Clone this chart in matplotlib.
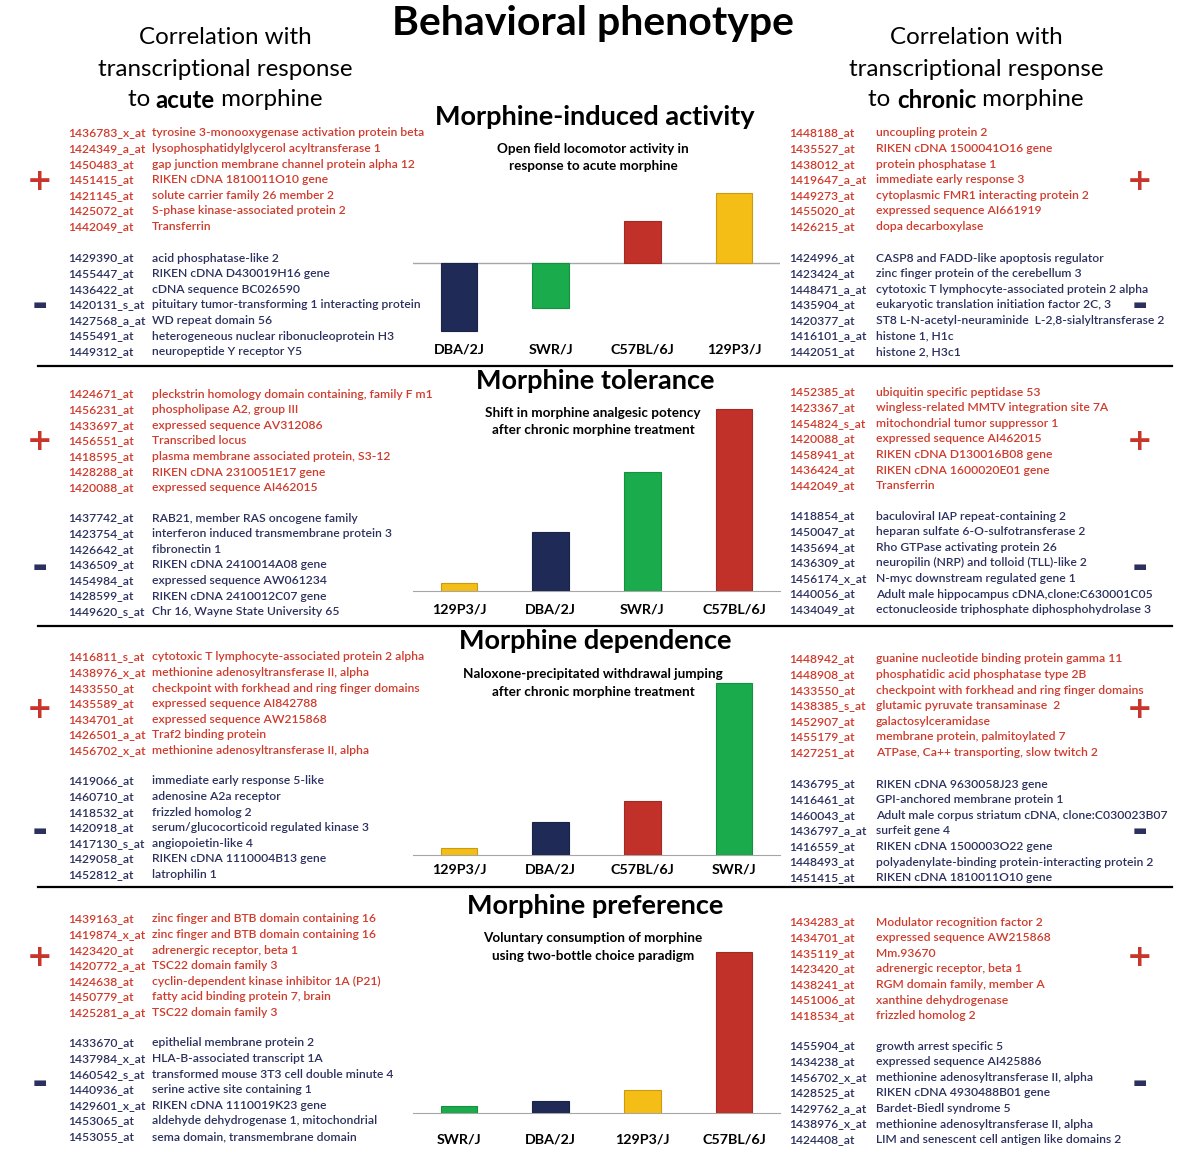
"""
Behavioral phenotype panel: four strain bar charts with correlated gene lists.
"""

import matplotlib
matplotlib.use("Agg")
import matplotlib.pyplot as plt
from matplotlib.transforms import blended_transform_factory

plt.rcParams["font.family"] = ["Lato", "DejaVu Sans"]

# ==================================================
# DATA
# ==================================================

ACTIVITY_STRAINS = ["DBA/2J", "SWR/J", "C57BL/6J", "129P3/J"]
ACTIVITY_VALUES = [-68, -45, 42, 70]

TOLERANCE_STRAINS = ["129P3/J", "DBA/2J", "SWR/J", "C57BL/6J"]
TOLERANCE_VALUES = [8, 59, 119, 182]

DEPENDENCE_STRAINS = ["129P3/J", "DBA/2J", "C57BL/6J", "SWR/J"]
DEPENDENCE_VALUES = [7, 33, 54, 172]

PREFERENCE_STRAINS = ["SWR/J", "DBA/2J", "129P3/J", "C57BL/6J"]
PREFERENCE_VALUES = [7, 12, 23, 161]

ACTIVITY_ACUTE_POS = [
    ("1436783_x_at", "tyrosine 3-monooxygenase activation protein beta"),
    ("1424349_a_at", "lysophosphatidylglycerol acyltransferase 1"),
    ("1450483_at", "gap junction membrane channel protein alpha 12"),
    ("1451415_at", "RIKEN cDNA 1810011O10 gene"),
    ("1421145_at", "solute carrier family 26 member 2"),
    ("1425072_at", "S-phase kinase-associated protein 2"),
    ("1442049_at", "Transferrin"),
]
ACTIVITY_ACUTE_NEG = [
    ("1429390_at", "acid phosphatase-like 2"),
    ("1455447_at", "RIKEN cDNA D430019H16 gene"),
    ("1436422_at", "cDNA sequence BC026590"),
    ("1420131_s_at", "pituitary tumor-transforming 1 interacting protein"),
    ("1427568_a_at", "WD repeat domain 56"),
    ("1455491_at", "heterogeneous nuclear ribonucleoprotein H3"),
    ("1449312_at", "neuropeptide Y receptor Y5"),
]
ACTIVITY_CHRONIC_POS = [
    ("1448188_at", "uncoupling protein 2"),
    ("1435527_at", "RIKEN cDNA 1500041O16 gene"),
    ("1438012_at", "protein phosphatase 1"),
    ("1419647_a_at", "immediate early response 3"),
    ("1449273_at", "cytoplasmic FMR1 interacting protein 2"),
    ("1455020_at", "expressed sequence AI661919"),
    ("1426215_at", "dopa decarboxylase"),
]
ACTIVITY_CHRONIC_NEG = [
    ("1424996_at", "CASP8 and FADD-like apoptosis regulator"),
    ("1423424_at", "zinc finger protein of the cerebellum 3"),
    ("1448471_a_at", "cytotoxic T lymphocyte-associated protein 2 alpha"),
    ("1435904_at", "eukaryotic translation initiation factor 2C, 3"),
    ("1420377_at", "ST8 L-N-acetyl-neuraminide  L-2,8-sialyltransferase 2"),
    ("1416101_a_at", "histone 1, H1c"),
    ("1442051_at", "histone 2, H3c1"),
]

TOLERANCE_ACUTE_POS = [
    ("1424671_at", "pleckstrin homology domain containing, family F m1"),
    ("1456231_at", "phospholipase A2, group III"),
    ("1433697_at", "expressed sequence AV312086"),
    ("1456551_at", "Transcribed locus"),
    ("1418595_at", "plasma membrane associated protein, S3-12"),
    ("1428288_at", "RIKEN cDNA 2310051E17 gene"),
    ("1420088_at", "expressed sequence AI462015"),
]
TOLERANCE_ACUTE_NEG = [
    ("1437742_at", "RAB21, member RAS oncogene family"),
    ("1423754_at", "interferon induced transmembrane protein 3"),
    ("1426642_at", "fibronectin 1"),
    ("1436509_at", "RIKEN cDNA 2410014A08 gene"),
    ("1454984_at", "expressed sequence AW061234"),
    ("1428599_at", "RIKEN cDNA 2410012C07 gene"),
    ("1449620_s_at", "Chr 16, Wayne State University 65"),
]
TOLERANCE_CHRONIC_POS = [
    ("1452385_at", "ubiquitin specific peptidase 53"),
    ("1423367_at", "wingless-related MMTV integration site 7A"),
    ("1454824_s_at", "mitochondrial tumor suppressor 1"),
    ("1420088_at", "expressed sequence AI462015"),
    ("1458941_at", "RIKEN cDNA D130016B08 gene"),
    ("1436424_at", "RIKEN cDNA 1600020E01 gene"),
    ("1442049_at", "Transferrin"),
]
TOLERANCE_CHRONIC_NEG = [
    ("1418854_at", "baculoviral IAP repeat-containing 2"),
    ("1450047_at", "heparan sulfate 6-O-sulfotransferase 2"),
    ("1435694_at", "Rho GTPase activating protein 26"),
    ("1436309_at", "neuropilin (NRP) and tolloid (TLL)-like 2"),
    ("1456174_x_at", "N-myc downstream regulated gene 1"),
    ("1440056_at", "Adult male hippocampus cDNA,clone:C630001C05"),
    ("1434049_at", "ectonucleoside triphosphate diphosphohydrolase 3"),
]

DEPENDENCE_ACUTE_POS = [
    ("1416811_s_at", "cytotoxic T lymphocyte-associated protein 2 alpha"),
    ("1438976_x_at", "methionine adenosyltransferase II, alpha"),
    ("1433550_at", "checkpoint with forkhead and ring finger domains"),
    ("1435589_at", "expressed sequence AI842788"),
    ("1434701_at", "expressed sequence AW215868"),
    ("1426501_a_at", "Traf2 binding protein"),
    ("1456702_x_at", "methionine adenosyltransferase II, alpha"),
]
DEPENDENCE_ACUTE_NEG = [
    ("1419066_at", "immediate early response 5-like"),
    ("1460710_at", "adenosine A2a receptor"),
    ("1418532_at", "frizzled homolog 2"),
    ("1420918_at", "serum/glucocorticoid regulated kinase 3"),
    ("1417130_s_at", "angiopoietin-like 4"),
    ("1429058_at", "RIKEN cDNA 1110004B13 gene"),
    ("1452812_at", "latrophilin 1"),
]
DEPENDENCE_CHRONIC_POS = [
    ("1448942_at", "guanine nucleotide binding protein gamma 11"),
    ("1448908_at", "phosphatidic acid phosphatase type 2B"),
    ("1433550_at", "checkpoint with forkhead and ring finger domains"),
    ("1438385_s_at", "glutamic pyruvate transaminase  2"),
    ("1452907_at", "galactosylceramidase"),
    ("1455179_at", "membrane protein, palmitoylated 7"),
    ("1427251_at", "ATPase, Ca++ transporting, slow twitch 2"),
]
DEPENDENCE_CHRONIC_NEG = [
    ("1436795_at", "RIKEN cDNA 9630058J23 gene"),
    ("1416461_at", "GPI-anchored membrane protein 1"),
    ("1460043_at", "Adult male corpus striatum cDNA, clone:C030023B07"),
    ("1436797_a_at", "surfeit gene 4"),
    ("1416559_at", "RIKEN cDNA 1500003O22 gene"),
    ("1448493_at", "polyadenylate-binding protein-interacting protein 2"),
    ("1451415_at", "RIKEN cDNA 1810011O10 gene"),
]

PREFERENCE_ACUTE_POS = [
    ("1439163_at", "zinc finger and BTB domain containing 16"),
    ("1419874_x_at", "zinc finger and BTB domain containing 16"),
    ("1423420_at", "adrenergic receptor, beta 1"),
    ("1420772_a_at", "TSC22 domain family 3"),
    ("1424638_at", "cyclin-dependent kinase inhibitor 1A (P21)"),
    ("1450779_at", "fatty acid binding protein 7, brain"),
    ("1425281_a_at", "TSC22 domain family 3"),
]
PREFERENCE_ACUTE_NEG = [
    ("1433670_at", "epithelial membrane protein 2"),
    ("1437984_x_at", "HLA-B-associated transcript 1A"),
    ("1460542_s_at", "transformed mouse 3T3 cell double minute 4"),
    ("1440936_at", "serine active site containing 1"),
    ("1429601_x_at", "RIKEN cDNA 1110019K23 gene"),
    ("1453065_at", "aldehyde dehydrogenase 1, mitochondrial"),
    ("1453055_at", "sema domain, transmembrane domain"),
]
PREFERENCE_CHRONIC_POS = [
    ("1434283_at", "Modulator recognition factor 2"),
    ("1434701_at", "expressed sequence AW215868"),
    ("1435119_at", "Mm.93670"),
    ("1423420_at", "adrenergic receptor, beta 1"),
    ("1438241_at", "RGM domain family, member A"),
    ("1451006_at", "xanthine dehydrogenase"),
    ("1418534_at", "frizzled homolog 2"),
]
PREFERENCE_CHRONIC_NEG = [
    ("1455904_at", "growth arrest specific 5"),
    ("1434238_at", "expressed sequence AI425886"),
    ("1456702_x_at", "methionine adenosyltransferase II, alpha"),
    ("1428525_at", "RIKEN cDNA 4930488B01 gene"),
    ("1429762_a_at", "Bardet-Biedl syndrome 5"),
    ("1438976_x_at", "methionine adenosyltransferase II, alpha"),
    ("1424408_at", "LIM and senescent cell antigen like domains 2"),
]

# ==================================================
# STYLE
# ==================================================

STRAIN_COLORS = {
    "DBA/2J": "#1f2a56",
    "SWR/J": "#1aab4c",
    "C57BL/6J": "#c1312a",
    "129P3/J": "#f5be16",
}
STRAIN_EDGES = {
    "DBA/2J": "#1a2348",
    "SWR/J": "#15903f",
    "C57BL/6J": "#a32a24",
    "129P3/J": "#c99a12",
}
RED = "#d03a2b"
NAVY = "#2b305e"
AXIS_GRAY = "#a6a6a6"
W, H = 1200, 1150
ROW = 15.6
GENE_SIZE = 8.75

SECTIONS = [
    dict(title="Morphine-induced activity",
         sub=["Open field locomotor activity in", "response to acute morphine"],
         strains=ACTIVITY_STRAINS, values=ACTIVITY_VALUES,
         lists=(ACTIVITY_ACUTE_POS, ACTIVITY_ACUTE_NEG,
                ACTIVITY_CHRONIC_POS, ACTIVITY_CHRONIC_NEG),
         title_y=117, sub_y=149, base=263, top=185, bottom=336, label_y=350,
         left_y=(133, 258), right_y=(133, 258),
         plus_y=181, minus_y=305, ticks=False),
    dict(title="Morphine tolerance",
         sub=["Shift in morphine analgesic potency", "after chronic morphine treatment"],
         strains=TOLERANCE_STRAINS, values=TOLERANCE_VALUES,
         lists=(TOLERANCE_ACUTE_POS, TOLERANCE_ACUTE_NEG,
                TOLERANCE_CHRONIC_POS, TOLERANCE_CHRONIC_NEG),
         title_y=381, sub_y=413, base=591, top=400, bottom=591, label_y=610,
         left_y=(394, 518), right_y=(392, 516),
         plus_y=441, minus_y=566, ticks=True),
    dict(title="Morphine dependence",
         sub=["Naloxone-precipitated withdrawal jumping", "after chronic morphine treatment"],
         strains=DEPENDENCE_STRAINS, values=DEPENDENCE_VALUES,
         lists=(DEPENDENCE_ACUTE_POS, DEPENDENCE_ACUTE_NEG,
                DEPENDENCE_CHRONIC_POS, DEPENDENCE_CHRONIC_NEG),
         title_y=641, sub_y=674, base=855, top=675, bottom=855, label_y=869,
         left_y=(657, 781), right_y=(659, 784),
         plus_y=709, minus_y=831, ticks=True),
    dict(title="Morphine preference",
         sub=["Voluntary consumption of morphine", "using two-bottle choice paradigm"],
         strains=PREFERENCE_STRAINS, values=PREFERENCE_VALUES,
         lists=(PREFERENCE_ACUTE_POS, PREFERENCE_ACUTE_NEG,
                PREFERENCE_CHRONIC_POS, PREFERENCE_CHRONIC_NEG),
         title_y=906, sub_y=938, base=1113, top=945, bottom=1113, label_y=1140,
         left_y=(919, 1043), right_y=(922, 1046),
         plus_y=957, minus_y=1082, ticks=True),
]

# ==================================================
# FIGURE
# ==================================================

fig = plt.figure(figsize=(W / 100, H / 100), dpi=100)
bg = fig.add_axes([0, 0, 1, 1])
bg.set_xlim(0, W)
bg.set_ylim(H, 0)
bg.axis("off")
renderer = fig.canvas.get_renderer()


def px_axes(x0, x1, y_top, y_bot):
    return fig.add_axes([x0 / W, 1 - y_bot / H, (x1 - x0) / W, (y_bot - y_top) / H])


def mixed_line(xc, y, parts, size):
    # centre a line made of normal / bold pieces
    texts, widths = [], []
    for s, wt in parts:
        t = bg.text(0, y, s, fontsize=size, fontweight=wt, ha="left", va="center")
        texts.append(t)
        widths.append(t.get_window_extent(renderer=renderer).width)
    x = xc - sum(widths) / 2
    for t, wd in zip(texts, widths):
        t.set_x(x)
        x += wd


# headers
bg.text(593, 23, "Behavioral phenotype", fontsize=29.5, fontweight="bold",
        ha="center", va="center")
for xc, word in [(225, "acute"), (976, "chronic")]:
    bg.text(xc, 38, "Correlation with", fontsize=17.4, ha="center", va="center")
    bg.text(xc, 69, "transcriptional response", fontsize=17.4, ha="center", va="center")
    mixed_line(xc, 100, [("to ", "normal"), (word, "bold"), (" morphine", "normal")], 17.4)

# section dividers
for y in [366, 626, 887]:
    bg.plot([38, 1172], [y, y], color="black", lw=1.6)


def gene_block(x_probe, x_name, y0, genes, color):
    for i, (probe, name) in enumerate(genes):
        y = y0 + i * ROW
        bg.text(x_probe, y, probe, fontsize=GENE_SIZE, fontweight="semibold",
                color=color, ha="left", va="center")
        bg.text(x_name, y, name, fontsize=GENE_SIZE, fontweight="semibold",
                color=color, ha="left", va="center")


for sec in SECTIONS:
    bg.text(595, sec["title_y"], sec["title"], fontsize=19.5, fontweight="bold",
            ha="center", va="center")
    for k, line in enumerate(sec["sub"]):
        bg.text(593, sec["sub_y"] + k * 17.5, line, fontsize=9.7, fontweight="bold",
                ha="center", va="center")

    a_pos, a_neg, c_pos, c_neg = sec["lists"]
    gene_block(68, 152, sec["left_y"][0], a_pos, RED)
    gene_block(68, 152, sec["left_y"][1], a_neg, NAVY)
    gene_block(789, 876, sec["right_y"][0], c_pos, RED)
    gene_block(789, 876, sec["right_y"][1], c_neg, NAVY)

    for xs in [40, 1140]:
        bg.text(xs, sec["plus_y"], "+", fontsize=22, fontweight="bold", color="#c8352a",
                ha="center", va="center", family="DejaVu Sans")
        bg.text(xs, sec["minus_y"], "\u25ac", fontsize=11, color=NAVY,
                ha="center", va="center", family="DejaVu Sans")

    # bar chart, 1 data unit = 1 pixel
    ax = px_axes(413, 780, sec["top"], sec["bottom"])
    ax.set_facecolor("none")
    strains = sec["strains"]
    ax.bar(range(len(strains)), sec["values"], width=0.4,
           color=[STRAIN_COLORS[s] for s in strains],
           edgecolor=[STRAIN_EDGES[s] for s in strains], linewidth=0.8, zorder=3)
    ax.set_xlim(-0.5, len(strains) - 0.5)
    ax.set_ylim(sec["base"] - sec["bottom"], sec["base"] - sec["top"])
    for side in ["top", "right", "left", "bottom"]:
        ax.spines[side].set_visible(False)
    ax.set_yticks([])
    ax.tick_params(which="major", length=0, labelbottom=False)
    if sec["ticks"]:
        ax.spines["bottom"].set_visible(True)
        ax.spines["bottom"].set_color(AXIS_GRAY)
        ax.set_xticks([i - 0.5 for i in range(len(strains) + 1)], minor=True)
        ax.tick_params(which="minor", length=3.5, width=0.8, color=AXIS_GRAY,
                       direction="out")
    else:
        ax.set_xticks([])
        ax.axhline(0, color=AXIS_GRAY, lw=1, zorder=2)

    blend = blended_transform_factory(ax.transData, bg.transData)
    for i, s in enumerate(strains):
        ax.text(i, sec["label_y"], s, transform=blend, fontsize=10.3, fontweight="bold",
                ha="center", va="center")

fig.savefig("out.png", dpi=100)
plt.close(fig)
